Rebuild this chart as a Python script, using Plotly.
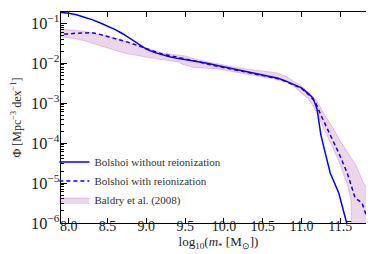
import plotly.graph_objects as go

# Bolshoi without reionization (log10 Phi)
x_noreion = [7.85, 7.9, 8.0, 8.1, 8.2, 8.3, 8.4, 8.5, 8.6, 8.7, 8.8, 8.9, 9.0, 9.1, 9.2, 9.3, 9.4,
             9.5, 9.6, 9.7, 9.8, 9.9, 10.0, 10.1, 10.2, 10.3, 10.4, 10.5, 10.6, 10.7, 10.8, 10.9,
             11.0, 11.1, 11.15, 11.2, 11.25, 11.3, 11.37, 11.48, 11.59, 11.65]
logphi_noreion = [-0.70, -0.73, -0.75, -0.79, -0.85, -0.91, -0.99, -1.07, -1.16, -1.27, -1.40, -1.54,
                  -1.65, -1.73, -1.79, -1.84, -1.88, -1.91, -1.94, -1.97, -2.01, -2.05, -2.09, -2.13,
                  -2.17, -2.21, -2.25, -2.29, -2.34, -2.38, -2.45, -2.53, -2.62, -2.78, -2.88, -3.15,
                  -3.80, -4.20, -4.75, -5.25, -6.0, -6.5]

# Bolshoi with reionization (log10 Phi)
x_reion = [7.85, 7.9, 8.0, 8.1, 8.2, 8.3, 8.4, 8.5, 8.6, 8.7, 8.8, 8.9, 9.0, 9.1, 9.2, 9.3, 9.4,
           9.5, 9.6, 9.7, 9.8, 9.9, 10.0, 10.1, 10.2, 10.3, 10.4, 10.5, 10.6, 10.7, 10.8, 10.9,
           11.0, 11.1, 11.18, 11.25, 11.33, 11.4, 11.48, 11.59, 11.69, 11.78, 11.87, 11.92]
logphi_reion = [-1.27, -1.27, -1.27, -1.25, -1.24, -1.24, -1.28, -1.33, -1.38, -1.44, -1.50, -1.57,
                -1.64, -1.71, -1.77, -1.81, -1.85, -1.89, -1.94, -1.98, -2.03, -2.07, -2.11, -2.15,
                -2.19, -2.22, -2.26, -2.30, -2.35, -2.39, -2.46, -2.54, -2.63, -2.80, -2.98, -3.30,
                -3.62, -3.90, -4.25, -4.75, -5.37, -5.50, -6.0, -6.3]

# Baldry et al. (2008) band (log10 Phi)
x_baldry = [7.9, 8.0, 8.1, 8.2, 8.3, 8.4, 8.5, 8.6, 8.7, 8.8, 8.9, 9.0, 9.1, 9.2, 9.3, 9.4, 9.5,
            9.6, 9.7, 9.8, 9.9, 10.0, 10.1, 10.2, 10.3, 10.4, 10.5, 10.6, 10.7, 10.8, 10.9, 11.0,
            11.1, 11.2, 11.3, 11.4, 11.5, 11.6, 11.64, 11.65, 11.7, 11.8, 11.85, 11.9, 11.96]
baldry_upper = [-1.15, -1.16, -1.18, -1.20, -1.24, -1.28, -1.33, -1.38, -1.44, -1.50, -1.57, -1.63,
                -1.69, -1.74, -1.77, -1.79, -1.82, -1.87, -1.93, -1.97, -2.01, -2.05, -2.09, -2.12,
                -2.15, -2.17, -2.19, -2.22, -2.25, -2.33, -2.45, -2.57, -2.75, -2.95, -3.30, -3.60,
                -3.95, -4.25, -4.35, -4.40, -4.55, -5.00, -5.15, -5.15, -5.15]
baldry_lower = [-1.33, -1.36, -1.40, -1.44, -1.50, -1.56, -1.62, -1.68, -1.74, -1.78, -1.82, -1.85,
                -1.88, -1.91, -1.94, -1.97, -2.05, -2.10, -2.12, -2.13, -2.14, -2.17, -2.21, -2.25,
                -2.28, -2.31, -2.34, -2.38, -2.42, -2.47, -2.58, -2.75, -2.92, -3.25, -3.70, -4.10,
                -4.55, -5.10, -5.45, -8.0, -8.0, -8.0, -8.0, -8.0, -8.0]

xtick_vals = [8.0, 8.5, 9.0, 9.5, 10.0, 10.5, 11.0, 11.5]
xtick_text = ["8.0", "8.5", "9.0", "9.5", "10.0", "10.5", "11.0", "11.5"]

labels = ["Bolshoi without reionization", "Bolshoi with reionization", "Baldry et al. (2008)"]

FONT = "Liberation Serif"
BLUE = "#0000ff"

def p(v):
    return [10 ** a for a in v]

fig = go.Figure()
fig.add_trace(go.Scatter(x=x_noreion, y=p(logphi_noreion), mode="lines",
                         line=dict(color=BLUE, width=1.5), name=labels[0]))
fig.add_trace(go.Scatter(x=x_reion, y=p(logphi_reion), mode="lines",
                         line=dict(color=BLUE, width=1.5, dash="4px,3px"), name=labels[1]))
fig.add_trace(go.Scatter(x=x_baldry, y=p(baldry_lower), mode="lines",
                         line=dict(color="rgba(128,0,128,0.22)", width=0.8),
                         showlegend=False, hoverinfo="skip"))
fig.add_trace(go.Scatter(x=x_baldry, y=p(baldry_upper), mode="lines", fill="tonexty",
                         fillcolor="rgba(128,0,128,0.16)",
                         line=dict(color="rgba(128,0,128,0.22)", width=0.8), name=labels[2]))

axis_common = dict(showline=True, linecolor="black", linewidth=1, mirror="allticks",
                   ticks="inside", tickcolor="black", showgrid=False, zeroline=False)

fig.update_xaxes(range=[7.9, 11.96], tickvals=xtick_vals, ticktext=xtick_text, ticklen=5,
                 ticklabelstandoff=-10, tickfont=dict(family=FONT, size=14, color="#222"),
                 title=dict(text="log<sub>10</sub>(<i>m</i><sub>*</sub> [M<sub>⊙</sub>])",
                            font=dict(family=FONT, size=13, color="#222"), standoff=2),
                 **axis_common)
fig.update_yaxes(type="log", range=[-6, -0.72], dtick=1, exponentformat="power", ticklen=6,
                 ticklabelstandoff=-2, tickfont=dict(family=FONT, size=13, color="#222"),
                 minor=dict(ticks="inside", ticklen=3, dtick="D1", tickcolor="black", showgrid=False),
                 title=dict(text="Φ [Mpc<sup>−3</sup> dex<sup>−1</sup>]",
                            font=dict(family=FONT, size=12, color="#222"), standoff=6),
                 **axis_common)

fig.update_layout(width=374, height=254, margin=dict(l=53, r=6, t=4, b=39),
                  paper_bgcolor="white", plot_bgcolor="white",
                  legend=dict(x=-0.021, y=0.04, xanchor="left", yanchor="bottom",
                              traceorder="normal",
                              bgcolor="rgba(0,0,0,0)", font=dict(family=FONT, size=11, color="#333"),
                              tracegroupgap=0, itemwidth=30))

fig.write_html("out.html")
